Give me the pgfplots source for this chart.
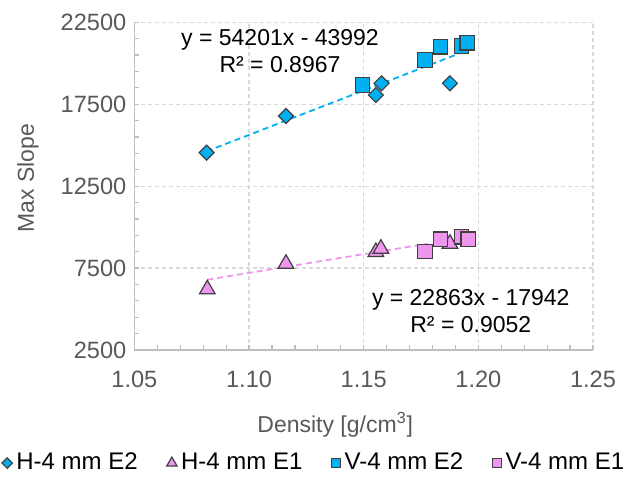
\documentclass[border=0pt]{standalone}
\usepackage{fontspec}
\setmainfont{Liberation Sans}
\usepackage{pgfplots}
\pgfplotsset{compat=1.18}
\definecolor{cblue}{HTML}{00B0F0}
\definecolor{cpink}{RGB}{238,150,238}
\definecolor{edge}{HTML}{404040}
\definecolor{gridc}{HTML}{D9D9D9}
\definecolor{axc}{HTML}{BFBFBF}
\definecolor{txt}{HTML}{595959}
\pgfplotsset{smallleg/.style={legend image code/.code={\draw[##1, mark size=#1] plot coordinates {(0pt,0pt)};}}}
\begin{document}
\begin{tikzpicture}
\begin{axis}[
  scale only axis, width=229.3pt, height=163.85pt,
  xmin=1.05, xmax=1.25, ymin=2500, ymax=22500,
  xtick={1.05,1.10,1.15,1.20,1.25},
  ytick={2500,7500,12500,17500,22500},
  minor x tick num=4, minor y tick num=4,
  axis x line*=bottom, axis y line*=left,
  axis line style={-, draw=axc, line width=0.6pt},
  tick align=inside, major tick length=2.5pt, minor tick length=2.5pt,
  every tick/.style={axc, line width=0.6pt},
  grid=major,
  major grid style={gridc, line width=0.6pt, dash pattern=on 2pt off 1.5pt},
  scaled y ticks=false,
  ticklabel style={font=\fontsize{11.8}{13}\selectfont, text=txt},
  /pgf/number format/assume math mode=true,
  xticklabel style={yshift=-7pt, /pgf/number format/.cd, fixed, fixed zerofill, precision=2},
  yticklabel style={xshift=-0.5pt, /pgf/number format/.cd, fixed, set thousands separator={}},
  xlabel={Density [g/cm\textsuperscript{3}]},
  ylabel={Max Slope},
  every axis x label/.style={at={(axis description cs:0.438,-0.229)}, anchor=center,
    font=\fontsize{11.5}{13}\selectfont, text=txt},
  every axis y label/.style={at={(axis description cs:0,0.5)}, xshift=-53.2pt, yshift=4pt,
    rotate=90, anchor=center, font=\fontsize{11.5}{13}\selectfont, text=txt},
  legend columns=4,
  legend style={at={(axis description cs:0.394,-0.345)}, anchor=center, draw=none, fill=none,
    font=\fontsize{12}{13}\selectfont, text=black,
    /tikz/every even column/.append style={column sep=12.5pt}},
  clip=false,
]
% trendlines
\addplot[forget plot, cblue, line width=0.9pt, dash pattern=on 3pt off 2pt] coordinates {(1.0815,14626) (1.1930,20670)};
\addplot[forget plot, cpink, line width=0.9pt, dash pattern=on 3pt off 2pt] coordinates {(1.0818,6791) (1.1780,8991)};

\addplot[only marks, mark=diamond*, mark size=3.75pt,
  mark options={xscale=1.333, fill=cblue, draw=edge, line width=0.6pt}, smallleg=2.6pt]
  coordinates {(1.0815,14542) (1.1161,16781) (1.1553,18063) (1.1578,18777) (1.1876,18777)};
\addlegendentry{H-4 mm E2}

\addplot[only marks, mark=triangle*, mark size=4.5pt,
  mark options={fill=cpink, draw=edge, line width=0.6pt}, smallleg=3pt]
  coordinates {(1.0818,6205) (1.1161,7767) (1.1553,8482) (1.1575,8683) (1.1876,8988)};
\addlegendentry{H-4 mm E1}

\addplot[only marks, mark=square*, mark size=3.6pt,
  mark options={fill=cblue, draw=edge, line width=0.6pt}, smallleg=2.3pt]
  coordinates {(1.1495,18673) (1.1767,20199) (1.1835,21011) (1.1927,21054) (1.1951,21255)};
\addlegendentry{V-4 mm E2}

\addplot[only marks, mark=square*, mark size=3.6pt,
  mark options={fill=cpink, draw=edge, line width=0.6pt}, smallleg=2.3pt]
  coordinates {(1.1767,8500) (1.1835,9257) (1.1927,9415) (1.1956,9257)};
\addlegendentry{V-4 mm E1}

\node[align=center, font=\fontsize{11.5}{13.5}\selectfont, text=black] at (axis cs:1.1135,20732) {y = 54201x - 43992\\R² = 0.8967};
\node[align=center, font=\fontsize{11.5}{13.5}\selectfont, text=black] at (axis cs:1.1967,4889) {y = 22863x - 17942\\R² = 0.9052};
\end{axis}
\pgfresetboundingbox
\useasboundingbox ([shift={(-67.2pt,-64pt)}]current axis.south west) rectangle ([shift={(250.8pt,175pt)}]current axis.south west);
\end{tikzpicture}
\end{document}
